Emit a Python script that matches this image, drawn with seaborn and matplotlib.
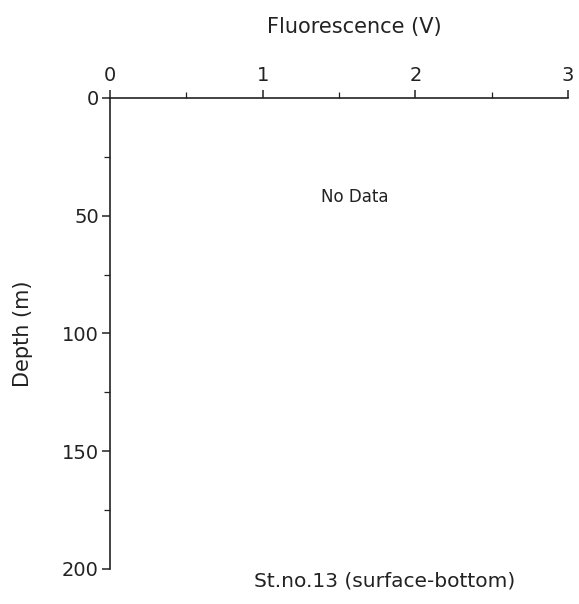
import pandas as pd
import matplotlib.pyplot as plt
from matplotlib.ticker import MultipleLocator
import seaborn as sns

# ── Data ──────────────────────────────────────────────────────────────────────
fluorescence = []          # no measurements at this station
depth = []
x_ticks = [0, 1, 2, 3]
y_ticks = [0, 50, 100, 150, 200]
station = "St.no.13 (surface-bottom)"

sns.set_style("ticks")
plt.rcParams["font.family"] = ["DejaVu Sans"]

df = pd.DataFrame({"Fluorescence": fluorescence, "Depth": depth}, dtype=float)

fig = plt.figure(figsize=(5.79, 6.04), dpi=100)
ax = fig.add_axes([0.190, 0.058, 0.791, 0.780])
sns.lineplot(data=df, x="Fluorescence", y="Depth", ax=ax, color="black")

ax.set_xlim(x_ticks[0], x_ticks[-1])
ax.set_ylim(y_ticks[-1], y_ticks[0])
ax.set_xticks(x_ticks)
ax.set_yticks(y_ticks)
ax.xaxis.set_minor_locator(MultipleLocator(0.5))
ax.yaxis.set_minor_locator(MultipleLocator(25))
ax.xaxis.tick_top()
ax.xaxis.set_label_position("top")
for s in ["bottom", "right"]:
    ax.spines[s].set_visible(False)
for s in ["top", "left"]:
    ax.spines[s].set_linewidth(1.2)
    ax.spines[s].set_color("#222222")
ax.tick_params(which="major", length=6, width=1.1, labelsize=14, colors="#222222")
ax.tick_params(axis="x", which="major", pad=3)
ax.tick_params(axis="y", which="major", pad=2)
ax.tick_params(which="minor", length=4, width=0.9, colors="#222222")
ax.set_xlabel("Fluorescence (V)", fontsize=15, labelpad=24, color="#222222")
ax.xaxis.label.set_x(0.533)
ax.set_ylabel("Depth (m)", fontsize=15, labelpad=21, color="#222222")

ax.text(1.60, 42, "No Data", fontsize=12, ha="center", va="center", color="#222222")
fig.text(0.665, 0.038, station, fontsize=14.5, ha="center", va="center", color="#222222")

fig.savefig("out.png", dpi=100)
